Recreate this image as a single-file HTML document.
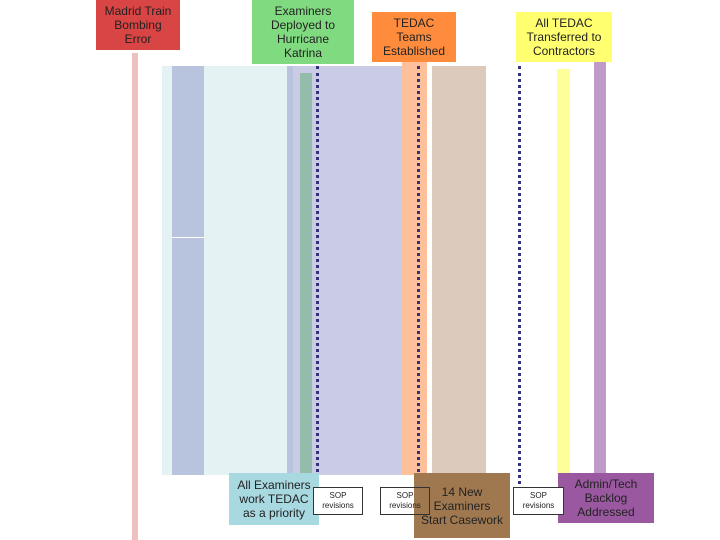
<!DOCTYPE html>
<html><head><style>
body{margin:0;width:720px;height:540px;position:relative;background:#fff;overflow:hidden;font-family:"Liberation Sans",sans-serif}
div{position:absolute;box-sizing:border-box}
.t{display:flex;align-items:center;justify-content:center;text-align:center;font-size:12px;line-height:14px;color:#222}
.dot{border-left:3px dotted #33337a;width:3px}
.sop{border:1px solid #333;background:#fff;font-size:8px;line-height:10px;display:flex;align-items:center;justify-content:center;text-align:center;color:#222}
</style></head><body>
<div style="left:132px;top:53px;width:6px;height:487px;background:#f0c0c0"></div>
<div style="left:162px;top:66px;width:240px;height:409px;background:#e4f2f4"></div>
<div style="left:172px;top:66px;width:32px;height:409px;background:#b8c4de"></div>
<div style="left:172px;top:237px;width:32px;height:1px;background:#fff"></div>
<div style="left:287px;top:66px;width:115px;height:409px;background:#cacce6"></div>
<div style="left:287px;top:66px;width:6px;height:409px;background:#b8c4de"></div>
<div style="left:300px;top:73px;width:12px;height:402px;background:#94bcaa"></div>
<div style="left:402px;top:62px;width:25px;height:413px;background:#fdc09a"></div>
<div style="left:432px;top:66px;width:54px;height:409px;background:#dccabc"></div>
<div style="left:557px;top:69px;width:13px;height:406px;background:#ffff99"></div>
<div style="left:594px;top:60px;width:12px;height:415px;background:#c09ac8"></div>
<div class="dot" style="left:316px;top:66px;height:424px"></div>
<div class="dot" style="left:417px;top:66px;height:424px"></div>
<div class="dot" style="left:518px;top:66px;height:424px"></div>
<div class="t" style="left:96px;top:0;width:84px;height:50px;background:#d94444">Madrid Train<br>Bombing<br>Error</div>
<div class="t" style="left:252px;top:0;width:102px;height:64px;background:#80da80">Examiners<br>Deployed to<br>Hurricane<br>Katrina</div>
<div class="t" style="left:372px;top:12px;width:84px;height:50px;background:#ff8c3c">TEDAC<br>Teams<br>Established</div>
<div class="t" style="left:516px;top:12px;width:96px;height:50px;background:#ffff70">All TEDAC<br>Transferred to<br>Contractors</div>
<div class="t" style="left:229px;top:473px;width:90px;height:52px;background:#a8d8e0">All Examiners<br>work TEDAC<br>as a priority</div>
<div class="t" style="left:414px;top:473px;width:96px;height:65px;background:#a07850">14 New<br>Examiners<br>Start Casework</div>
<div class="t" style="left:558px;top:473px;width:96px;height:50px;background:#9a58a0">Admin/Tech<br>Backlog<br>Addressed</div>
<div class="sop" style="left:313px;top:487px;width:50px;height:28px">SOP<br>revisions</div>
<div class="sop" style="left:380px;top:487px;width:50px;height:28px;background:transparent">SOP<br>revisions</div>
<div class="sop" style="left:513px;top:487px;width:51px;height:28px">SOP<br>revisions</div>
</body></html>
